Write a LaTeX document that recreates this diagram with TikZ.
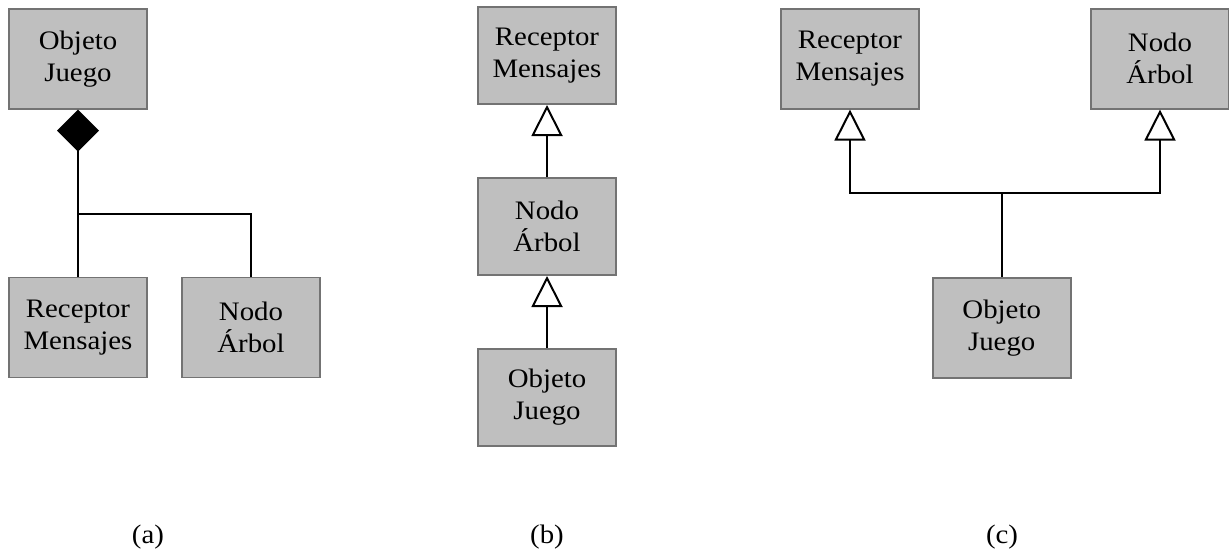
\documentclass[tikz,border=0pt]{standalone}
\usepackage{fontspec}
\setmainfont[FakeStretch=1.08]{Liberation Serif}
\usetikzlibrary{arrows.meta}
\begin{document}
\begin{tikzpicture}[x=1pt,y=-1pt,
  box/.style={draw=black!55,line width=1.6pt,fill=black!25,minimum width=138pt,minimum height=100pt,inner sep=0pt,align=center,font=\fontsize{26.7}{32}\selectfont},
  boxb/.style={box,minimum height=97pt},
  conn/.style={line width=2pt,black},
  comp/.style={conn,-{Diamond[length=42pt,width=42pt,fill=black]}},
  inh/.style={conn,-{Triangle[open,length=31pt,width=31pt,fill=white]}},
  lbl/.style={font=\fontsize{26.7}{32}\selectfont,anchor=base}]
\useasboundingbox (0,0) rectangle (1229,549);
% (a)
\node[box] (aoj) at (78,58.7) {Objeto\\Juego};
\node[box] (arm) at (78,327.5) {Receptor\\Mensajes};
\node[box] (ana) at (251,327.5) {Nodo\\Árbol};
\coordinate (ajoin) at (78,214);
\draw[comp] (arm.north) -- (aoj.south);
\draw[conn] (ana.north) |- (ajoin);
% (b)
\node[boxb] (brm) at (547,55.7) {Receptor\\Mensajes};
\node[boxb] (bna) at (547,226.7) {Nodo\\Árbol};
\node[boxb] (boj) at (547,397.3) {Objeto\\Juego};
\draw[inh] (bna.north) -- (brm.south);
\draw[inh] (boj.north) -- (bna.south);
% (c)
\node[box] (crm) at (850,58.8) {Receptor\\Mensajes};
\node[box] (cna) at (1160,58.8) {Nodo\\Árbol};
\node[box] (coj) at (1001.7,327.8) {Objeto\\Juego};
\coordinate (cjoin) at (1001.7,192.7);
\draw[conn] (coj.north) -- (cjoin);
\draw[inh] (cjoin) -| (crm.south);
\draw[inh] (cjoin) -| (cna.south);
% labels
\node[lbl] (la) at (148,543) {(a)};
\node[lbl] (lb) at (547,543) {(b)};
\node[lbl] (lc) at (1002,543) {(c)};
\end{tikzpicture}
\end{document}
